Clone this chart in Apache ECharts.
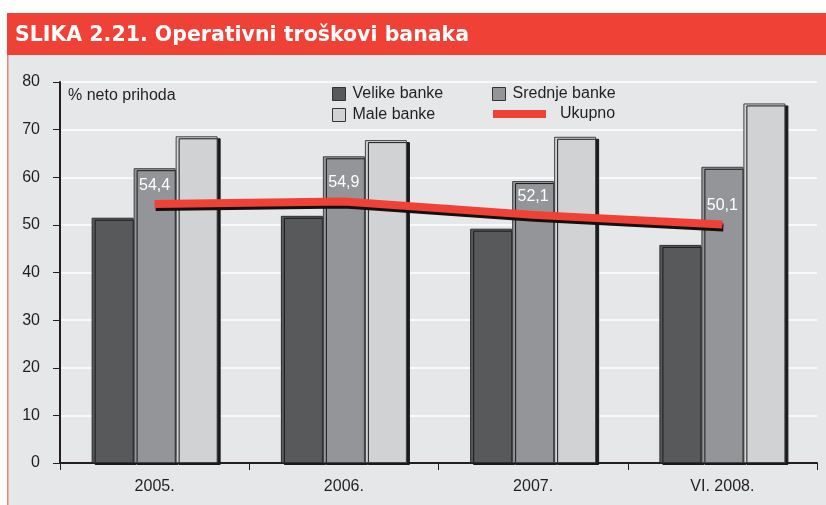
<!DOCTYPE html>
<html>
<head>
<meta charset="utf-8">
<script src="https://cdn.jsdelivr.net/npm/echarts@6/dist/echarts.min.js"></script>
<style>
html,body{margin:0;padding:0;background:#fff;}
#c{width:826px;height:505px;}
</style>
</head>
<body>
<div id="c"></div>
<script>
const categories = ['2005.', '2006.', '2007.', 'VI. 2008.'];
const velike = [51.5, 51.9, 49.2, 45.8];
const srednje = [61.9, 64.4, 59.2, 62.2];
const male = [68.6, 67.8, 68.5, 75.5];
const ukupno = [54.4, 54.9, 52.1, 50.1];
const yMin = 0, yMax = 80, yStep = 10;

const chart = echarts.init(document.getElementById('c'), null, {renderer: 'canvas'});
const txt = '#231f20';
const font = 'Liberation Sans, Arial, sans-serif';
const barShadow = {shadowColor: '#1a1a1a', shadowOffsetX: 3, shadowOffsetY: 2, shadowBlur: 0};
const noShadow = {shadowBlur: 0, shadowOffsetX: 0, shadowOffsetY: 0, shadowColor: 'rgba(0,0,0,0)'};

function legendItem(name, left, top, extra) {
  return Object.assign({
    data: [name], left: left, top: top, selectedMode: false,
    icon: 'rect', itemWidth: 13, itemHeight: 13, itemGap: 0, padding: 0,
    itemStyle: Object.assign({borderColor: '#333333', borderWidth: 1}, noShadow),
    textStyle: {color: txt, fontSize: 16, fontFamily: font, padding: [0, 0, 0, 2]}
  }, extra || {});
}

chart.setOption({
  backgroundColor: '#ffffff',
  animation: false,
  graphic: [
    {type: 'rect', z: -100, shape: {x: 8, y: 55, width: 818, height: 450}, style: {fill: '#e6e7e8'}},
    {type: 'rect', z: -99, shape: {x: 7, y: 13, width: 819, height: 42}, style: {fill: '#ef4136'}},
    {type: 'rect', z: -98, shape: {x: 7, y: 55, width: 1.5, height: 450}, style: {fill: '#f07f78'}},
    {type: 'text', x: 15, y: 35.5, style: {text: 'SLIKA 2.21. Operativni troškovi banaka', fill: '#ffffff',
      font: 'bold 20.5px DejaVu Sans, sans-serif', verticalAlign: 'middle', align: 'left'}},
    {type: 'text', x: 68, y: 96, style: {text: '% neto prihoda', fill: txt, font: '16px ' + font,
      verticalAlign: 'middle', align: 'left'}}
  ],
  legend: [
    legendItem('Velike banke', 332, 86),
    legendItem('Male banke', 332, 107),
    legendItem('Srednje banke', 492, 86),
    legendItem('Ukupno', 493, 106, {itemWidth: 53, itemHeight: 8,
      itemStyle: Object.assign({borderWidth: 0}, noShadow),
      textStyle: {color: txt, fontSize: 16, fontFamily: font, padding: [0, 0, 0, 9]}})
  ],
  grid: {left: 60, right: 9, top: 82, bottom: 42},
  xAxis: {
    type: 'category', data: categories,
    axisLine: {lineStyle: {color: '#231f20', width: 2}},
    axisTick: {show: true, length: 7, lineStyle: {color: '#231f20', width: 1}},
    axisLabel: {color: txt, fontSize: 16, fontFamily: font, margin: 16},
    splitLine: {show: false}
  },
  yAxis: {
    type: 'value', min: yMin, max: yMax, interval: yStep,
    axisLine: {show: true, lineStyle: {color: '#231f20', width: 2}},
    axisTick: {show: true, length: 7, lineStyle: {color: '#231f20', width: 1}},
    axisLabel: {color: txt, fontSize: 16, fontFamily: font, margin: 20},
    splitLine: {show: true, lineStyle: {color: '#ffffff', width: 1.5}}
  },
  series: [
    {name: 'Velike banke', type: 'bar', data: velike, barWidth: 42, barGap: '0%',
      itemStyle: Object.assign({color: '#58595b', borderColor: '#2e2e2e', borderWidth: 1}, barShadow)},
    {name: 'Srednje banke', type: 'bar', data: srednje, barWidth: 42, barGap: '0%',
      itemStyle: Object.assign({color: '#939598', borderColor: '#444444', borderWidth: 1}, barShadow)},
    {name: 'Male banke', type: 'bar', data: male, barWidth: 42, barGap: '0%',
      itemStyle: Object.assign({color: '#d1d2d4', borderColor: '#444444', borderWidth: 1}, barShadow)},
    {name: 'Ukupno', type: 'line', data: ukupno, z: 5,
      symbol: 'circle', symbolSize: 1, itemStyle: {color: '#ef4136', opacity: 1},
      lineStyle: {color: '#ef4136', width: 8, cap: 'butt', join: 'round',
        shadowColor: '#111111', shadowOffsetX: 1, shadowOffsetY: 3, shadowBlur: 0},
      label: {show: true, position: 'top', distance: 10, color: '#ffffff', fontSize: 16, fontFamily: font,
        formatter: p => p.value.toFixed(1).replace('.', ',')}
    }
  ]
});
</script>
</body>
</html>
